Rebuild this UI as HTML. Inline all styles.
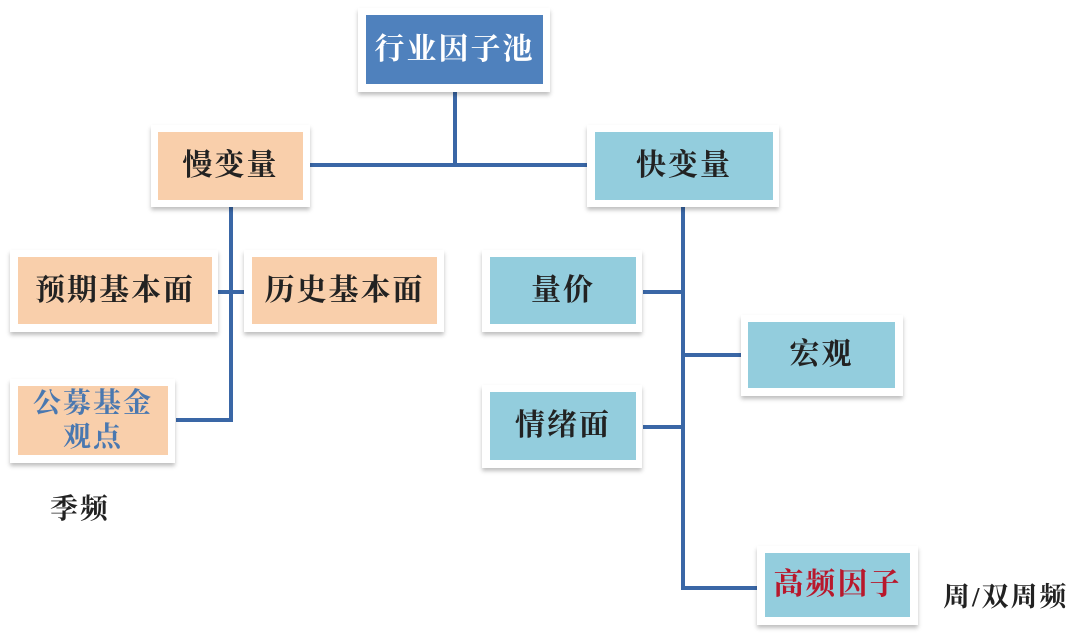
<!DOCTYPE html>
<html><head><meta charset="utf-8"><style>
body{margin:0;width:1092px;height:639px;background:#fff;position:relative;overflow:hidden;font-family:"Liberation Serif","Noto Serif CJK SC",serif;}
.c{position:absolute;background:#fff;box-shadow:0 3px 4px rgba(0,0,0,0.25);}
.f{position:absolute;display:flex;align-items:center;justify-content:center;font-size:30px;color:#222;text-align:center;line-height:1.2;font-weight:bold;letter-spacing:2px;}
.o{background:#f9cfab;}
.b{background:#93cddd;}
.l{position:absolute;background:#3a67a6;}
.t{position:absolute;font-size:28px;color:#222;font-weight:bold;letter-spacing:2px;}
</style></head><body>
<div class="l" style="left:453px;top:88px;width:4px;height:79px"></div>
<div class="l" style="left:308px;top:163px;width:282px;height:4px"></div>
<div class="l" style="left:229px;top:205px;width:4px;height:217px"></div>
<div class="l" style="left:218px;top:290px;width:26px;height:4px"></div>
<div class="l" style="left:176px;top:418px;width:57px;height:4px"></div>
<div class="l" style="left:681px;top:205px;width:4px;height:385px"></div>
<div class="l" style="left:643px;top:290px;width:40px;height:4px"></div>
<div class="l" style="left:683px;top:353px;width:58px;height:4px"></div>
<div class="l" style="left:643px;top:425px;width:40px;height:4px"></div>
<div class="l" style="left:683px;top:586px;width:75px;height:4px"></div>

<div class="c" style="left:358px;top:8px;width:192px;height:84px"></div>
<div class="f" style="left:366px;top:15px;width:177px;height:69px;background:#4f81bd;color:#fff;">行业因子池</div>

<div class="c" style="left:151px;top:125px;width:159px;height:82px"></div>
<div class="f o" style="left:158px;top:132px;width:145px;height:68px">慢变量</div>

<div class="c" style="left:587px;top:125px;width:192px;height:82px"></div>
<div class="f b" style="left:595px;top:132px;width:178px;height:68px">快变量</div>

<div class="c" style="left:10px;top:250px;width:208px;height:82px"></div>
<div class="f o" style="left:18px;top:257px;width:194px;height:67px">预期基本面</div>

<div class="c" style="left:244px;top:250px;width:200px;height:82px"></div>
<div class="f o" style="left:252px;top:257px;width:185px;height:67px">历史基本面</div>

<div class="c" style="left:10px;top:379px;width:165px;height:84px"></div>
<div class="f o" style="left:18px;top:386px;width:150px;height:69px;color:#4a78b0;font-size:28px">公募基金<br>观点</div>
<div class="t" style="left:50px;top:487px">季频</div>

<div class="c" style="left:482px;top:250px;width:160px;height:82px"></div>
<div class="f b" style="left:490px;top:257px;width:146px;height:67px">量价</div>

<div class="c" style="left:741px;top:315px;width:162px;height:81px"></div>
<div class="f b" style="left:748px;top:322px;width:147px;height:66px">宏观</div>

<div class="c" style="left:482px;top:385px;width:160px;height:83px"></div>
<div class="f b" style="left:490px;top:392px;width:146px;height:68px">情绪面</div>

<div class="c" style="left:757px;top:546px;width:161px;height:79px"></div>
<div class="f b" style="left:765px;top:553px;width:145px;height:64px;color:#b8182c">高频因子</div>
<div class="t" style="left:943px;top:575px;font-size:27px">周/双周频</div>
</body></html>
